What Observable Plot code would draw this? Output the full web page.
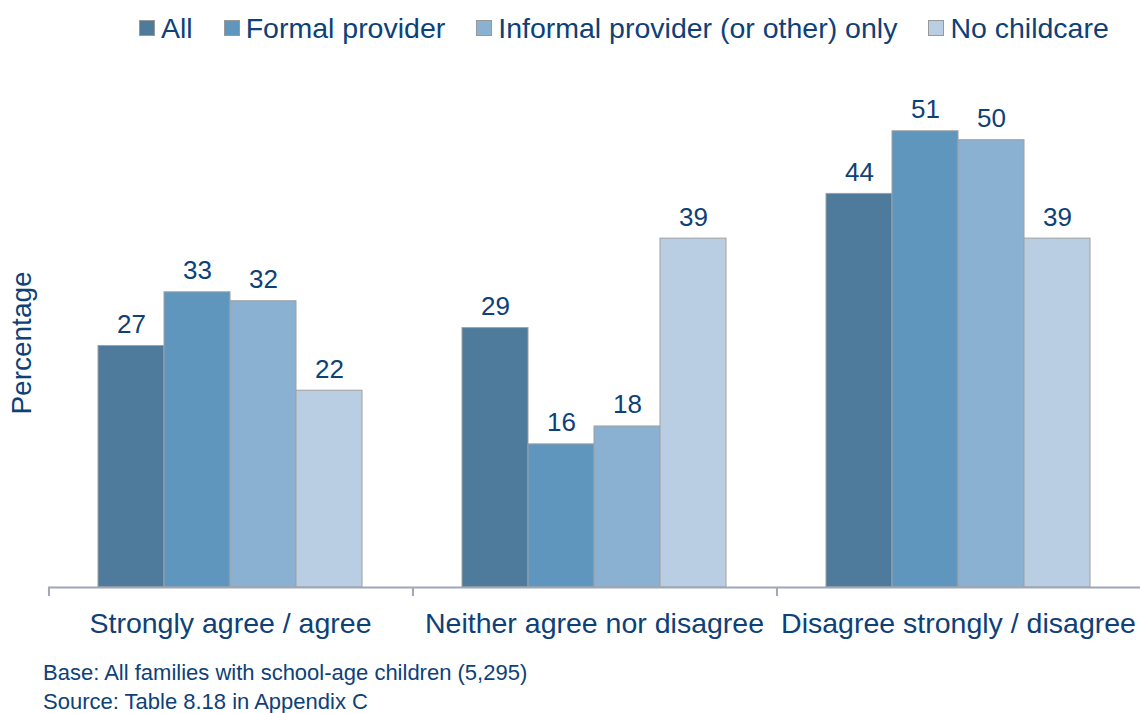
<!DOCTYPE html>
<html>
<head>
<meta charset="utf-8">
<script src="https://cdn.jsdelivr.net/npm/d3@7"></script>
<script src="https://cdn.jsdelivr.net/npm/@observablehq/plot@0.6"></script>
<style>
  html, body { margin: 0; padding: 0; background: #fff; }
  body { width: 1140px; height: 713px; position: relative; overflow: hidden;
         font-family: "Liberation Sans", Arial, sans-serif; color: #0d4177; }
  #legend { position: absolute; left: 139px; top: 0; height: 56px; display: flex; align-items: center;
            font-size: 28.5px; white-space: nowrap; }
  .item { display: flex; align-items: center; margin-right: 31px; }
  .sw { width: 16px; height: 16px; border: 1px solid #999; box-sizing: border-box; margin-right: 6px; }
  #chart { position: absolute; left: 0; top: 55px; }
  #ylabel { position: absolute; left: 22px; top: 343px; transform: translate(-50%, -50%) rotate(-90deg);
            font-size: 28px; white-space: nowrap; }
  #caption { position: absolute; left: 43px; top: 658px; font-size: 22px; line-height: 29px; }
</style>
</head>
<body>
<div id="legend"></div>
<div id="chart"></div>
<div id="ylabel">Percentage</div>
<div id="caption">
  <div>Base: All families with school-age children (5,295)</div>
  <div>Source: Table 8.18 in Appendix C</div>
</div>
<script>
const categories = ["Strongly agree / agree", "Neither agree nor disagree", "Disagree strongly / disagree"];
const series = ["All", "Formal provider", "Informal provider (or other) only", "No childcare"];
const allValues = [27, 29, 44];
const formalValues = [33, 16, 51];
const informalValues = [32, 18, 50];
const noChildcareValues = [22, 39, 39];
const colors = ["#4e7a9c", "#5e96be", "#8ab0d2", "#b9cee3"];
const textColor = "#0d4177";

const valuesBySeries = [allValues, formalValues, informalValues, noChildcareValues];
const data = [];
categories.forEach((c, i) => {
  series.forEach((s, j) => data.push({category: c, series: s, value: valuesBySeries[j][i]}));
});

// legend
const legend = document.getElementById("legend");
series.forEach((s, j) => {
  const it = document.createElement("div");
  it.className = "item";
  const sw = document.createElement("div");
  sw.className = "sw";
  sw.style.background = colors[j];
  const t = document.createElement("span");
  t.textContent = s;
  it.appendChild(sw); it.appendChild(t);
  legend.appendChild(it);
});

const W = 1140, ML = 48, MR = 0;
const padOuter = 0.745;
const facetW = (W - ML - MR) / categories.length;
const step = facetW / (series.length + 2 * padOuter);
const tickDx = -(padOuter * step + step / 2);

const chart = Plot.plot({
  width: W,
  height: 604,
  marginLeft: ML,
  marginRight: MR,
  marginTop: 40,
  marginBottom: 72,
  style: {fontFamily: '"Liberation Sans", Arial, sans-serif', fontSize: "28.5px", color: textColor, background: "white"},
  fx: {domain: categories, padding: 0, label: null, tickSize: 0, tickPadding: 25},
  x: {domain: series, paddingInner: 0, paddingOuter: padOuter, axis: null},
  y: {domain: [0, 55], axis: null},
  color: {domain: series, range: colors},
  marks: [
    Plot.barY(data, {fx: "category", x: "series", y: "value", fill: "series", stroke: "#a0a0a0", strokeWidth: 1}),
    Plot.text(data, {fx: "category", x: "series", y: "value", text: d => String(d.value),
                     lineAnchor: "bottom", dy: -13, fontSize: 26, fill: textColor}),
    Plot.ruleY([0], {stroke: "#9ea6b8", strokeWidth: 2}),
    Plot.ruleX([series[0]], {x: d => d, y1: 0, y2: -1, dx: tickDx, stroke: "#9ea6b8", strokeWidth: 2})
  ]
});
document.getElementById("chart").appendChild(chart);
</script>
</body>
</html>
